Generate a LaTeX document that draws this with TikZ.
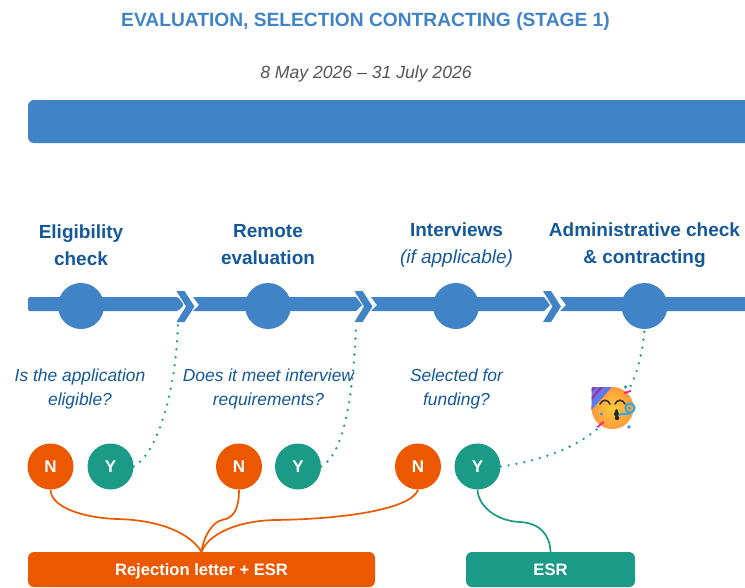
\documentclass[tikz,border=0pt]{standalone}
\usepackage{fontspec}
\setmainfont{Liberation Sans}
\usetikzlibrary{calc}
\definecolor{barblue}{HTML}{4083C7}
\definecolor{navy}{HTML}{14589A}
\definecolor{orng}{HTML}{EC5800}
\definecolor{teal2}{HTML}{1B9A87}
\definecolor{greytx}{HTML}{555555}
\definecolor{hatblue}{HTML}{5B7BF0}
\definecolor{hatpink}{HTML}{A8309C}
\definecolor{pinkc}{HTML}{F0208C}
\definecolor{dotblue}{HTML}{3F8CF0}
\definecolor{blower}{HTML}{2FA8E0}
\definecolor{facein}{HTML}{FFCC3A}
\definecolor{faceout}{HTML}{FF9A3C}
\tikzset{
  x=1pt,y=-1pt,
  stage/.style={circle,fill=barblue,minimum size=46pt,inner sep=0pt},
  nbtn/.style={circle,fill=orng,minimum size=46pt,inner sep=0pt,text=white,font=\fontsize{17}{17}\selectfont\bfseries},
  ybtn/.style={circle,fill=teal2,minimum size=46pt,inner sep=0pt,text=white,font=\fontsize{17}{17}\selectfont\bfseries},
  head/.style={align=center,text=navy,font=\fontsize{19}{27}\selectfont\bfseries},
  quest/.style={align=center,text=navy,font=\fontsize{17.4}{24}\selectfont\itshape},
  result/.style={rounded corners=6pt,text=white,minimum height=35pt,inner sep=0pt,text depth=0pt,font=\fontsize{16.6}{17}\selectfont\bfseries},
  dots/.style={teal2,line width=2.6pt,line cap=round,dash pattern=on 0pt off 8pt},
  wire/.style={orng,line width=1.7pt},
  wiret/.style={teal2,line width=1.7pt},
}
\begin{document}
\begin{tikzpicture}
\useasboundingbox (0,0) rectangle (745,587);
\clip (0,0) rectangle (745,587);
\node[text=barblue,font=\fontsize{19.2}{22}\selectfont\bfseries] (title) at (365.5,21.5) {EVALUATION, SELECTION CONTRACTING (STAGE 1)};
\node[text=greytx,font=\fontsize{17.6}{20}\selectfont\itshape] (dates) at (366,74) {8 May 2026 – 31 July 2026};
\fill[barblue,rounded corners=6pt] (28,100) rectangle (770,143);
% timeline
\fill[barblue,rounded corners=1.5pt] (28,297) -- (178,297) -- (184,305) -- (178,311) -- (28,311) -- cycle;
\fill[barblue] (193,297) -- (356,297) -- (362,305) -- (356,311) -- (193,311) -- (199,305) -- cycle;
\fill[barblue] (371,297) -- (544,297) -- (550,305) -- (544,311) -- (371,311) -- (377,305) -- cycle;
\fill[barblue] (560,297) -- (760,297) -- (760,311) -- (560,311) -- (566,305) -- cycle;
\foreach \x in {176.5,354.5,543}{
  \fill[barblue] (\x,291) -- (\x+8,291) -- (\x+18,306.5) -- (\x+8,322) -- (\x,322) -- (\x+9.5,306.5) -- cycle;
}
\node[stage] (s1) at (81,306) {};
\node[stage] (s2) at (268,306) {};
\node[stage] (s3) at (456,306) {};
\node[stage] (s4) at (644.5,306) {};
\coordinate (c1) at (178,325);
\coordinate (c2) at (356,327);
\node[head] (h1) at (81,245) {Eligibility\\check};
\node[head] (h2) at (268,245) {Remote\\evaluation};
\node[head] (h3) at (456.5,245) {Interviews\\{\mdseries\itshape (if applicable)}};
\node[head] (h4) at (644.5,245) {Administrative check\\\& contracting};
\node[quest] (q1) at (80,389) {Is the application\\eligible?};
\node[quest] (q2) at (268.5,389) {Does it meet interview\\requirements?};
\node[quest] (q3) at (456.5,389) {Selected for\\funding?};
\node[nbtn] (n1) at (50.5,466.5) {N};
\node[ybtn] (y1) at (110.5,466.5) {Y};
\node[nbtn] (n2) at (239,466.5) {N};
\node[ybtn] (y2) at (298,466.5) {Y};
\node[nbtn] (n3) at (418,466.5) {N};
\node[ybtn] (y3) at (477.5,466.5) {Y};
\node[result,fill=orng,minimum width=347pt] (rej) at (201.5,569.5) {Rejection letter + ESR};
\node[result,fill=teal2,minimum width=169pt] (esr) at (550.5,569.5) {ESR};
% wires
\draw[wire] (n1.south) .. controls (51,508) and (85,518) .. (117,519) .. controls (160,520) and (190,533) .. (rej.north);
\draw[wire] (n2.south) .. controls (239,505) and (236,518) .. (222,520) .. controls (212,522) and (203,538) .. (rej.north);
\draw[wire] (n3.south) .. controls (412,508) and (350,519) .. (275,520) .. controls (235,521) and (208,535) .. (rej.north);
\draw[wiret] (y3.south) .. controls (478,505) and (495,521) .. (520,522) .. controls (540,523) and (550,535) .. (esr.north);
% dotted
\draw[dots] (y1.east) .. controls (155,455) and (175,400) .. (c1);
\draw[dots] (y2.east) .. controls (343,455) and (353,400) .. (c2);
\draw[dots] (y3.east) .. controls (580,455) and (638,418) .. (s4.south);
% emoji
\begin{scope}[shift={(612.5,408)}]
  \shade[inner color=facein,outer color=faceout] (0,0) circle (21);
  \fill[hatblue] (-21,-21) -- (-1,-21) -- (-21,2) -- cycle;
  \begin{scope}
    \clip (-21,-21) -- (-1,-21) -- (-21,2) -- cycle;
    \draw[hatpink,line width=2.4pt] (-21,-9) -- (-9,-23);
    \draw[hatpink,line width=2.4pt] (-21,-17) -- (-16,-23);
    \draw[hatpink,line width=2.4pt] (-14,-4) -- (2,-23);
  \end{scope}
  \draw[black!80,line width=1.6pt,line cap=round] (-12.5,-4) .. controls (-10,-9) and (-5,-9) .. (-2.5,-4);
  \draw[black!80,line width=1.6pt,line cap=round] (2.5,-4) .. controls (5,-9) and (10,-9) .. (12.5,-4);
  \fill[black!85] (4,6) circle (2.6) (4.5,10) circle (2.2) (4,2.8) circle (1.8);
  \draw[blower,line width=2pt] (6,6.5) -- (18,5.5);
  \draw[blower,line width=2pt] (17.5,0) circle (4.6);
  \fill[blower] (17,0) circle (1.5);
  \draw[pinkc,line width=1.8pt,line cap=round] (12,-15) -- (18,-17);
  \draw[pinkc,line width=1.8pt,line cap=round] (-15,19) -- (-9,14);
  \fill[dotblue] (13,-21) circle (1.8) (16.5,19) circle (1.8) (-11,6) circle (1.6);
\end{scope}
\end{tikzpicture}
\end{document}
